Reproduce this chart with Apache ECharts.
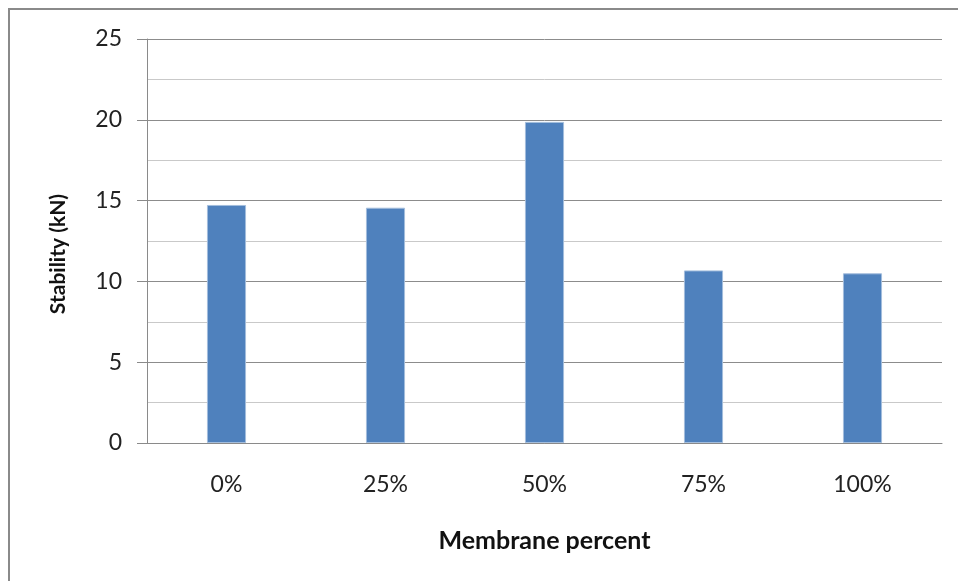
<!DOCTYPE html>
<html>
<head>
<meta charset="utf-8">
<style>
  html, body { margin: 0; padding: 0; background: #fff; }
  #chart { width: 958px; height: 581px; }
</style>
<script src="https://cdn.jsdelivr.net/npm/echarts@6/dist/echarts.min.js"></script>
</head>
<body>
<div id="chart"></div>
<script>
// Membrane share in the mix and the measured stability
const categories = ['0%', '25%', '50%', '75%', '100%'];
const stability = [14.73, 14.56, 19.87, 10.68, 10.50];
const yTicks = [0, 5, 10, 15, 20, 25];

const chart = echarts.init(document.getElementById('chart'));

chart.setOption({
  animation: false,
  backgroundColor: '#ffffff',
  graphic: [{
    type: 'rect',
    shape: { x: 9, y: 9, width: 960, height: 590 },
    style: { fill: 'none', stroke: '#8a8a8a', lineWidth: 2 },
    silent: true
  }],
  grid: { left: 147, right: 16, top: 39, bottom: 138, containLabel: false },
  xAxis: {
    type: 'category',
    data: categories,
    name: 'Membrane percent',
    nameLocation: 'middle',
    nameGap: 85,
    nameTextStyle: { fontFamily: 'Lato', fontWeight: 'bold', fontSize: 25, color: '#111' },
    axisLine: { lineStyle: { color: '#8a8a8a', width: 1 } },
    axisTick: { show: false },
    axisLabel: { fontFamily: 'Lato', fontSize: 23, color: '#222', margin: 30 }
  },
  yAxis: {
    type: 'value',
    min: yTicks[0],
    max: yTicks[yTicks.length - 1],
    interval: 5,
    name: 'Stability (kN)',
    nameLocation: 'middle',
    nameGap: 78,
    nameTextStyle: { fontFamily: 'Lato', fontWeight: 'bold', fontSize: 21, color: '#111', padding: [0, 0, 0, -26] },
    axisLine: { show: true, lineStyle: { color: '#8a8a8a', width: 1 } },
    axisTick: { show: true, length: 10, lineStyle: { color: '#8a8a8a' } },
    axisLabel: { fontFamily: 'Lato', fontSize: 23, color: '#222', margin: 25 },
    splitLine: { show: true, lineStyle: { color: '#8c8c8c', width: 1 } },
    minorTick: { show: false, splitNumber: 2 },
    minorSplitLine: { show: true, lineStyle: { color: '#c9c9c9', width: 1 } }
  },
  series: [{
    type: 'bar',
    data: stability,
    barWidth: '24.6%',
    itemStyle: { color: '#4f81bd', borderColor: '#a3bddc', borderWidth: 1 }
  }]
});
</script>
</body>
</html>
